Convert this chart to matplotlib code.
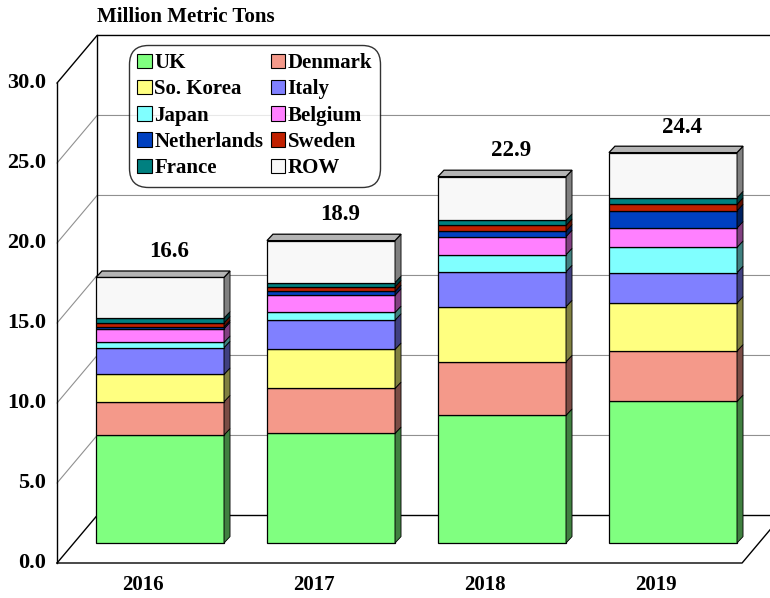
import matplotlib
matplotlib.use("Agg")
import matplotlib.pyplot as plt
from matplotlib.patches import Polygon, Patch

plt.rcParams['font.family'] = ['Liberation Serif', 'DejaVu Serif']
plt.rcParams['font.weight'] = 'bold'

years = ['2016', '2017', '2018', '2019']
totals = [16.6, 18.9, 22.9, 24.4]
series_names = ['UK', 'Denmark', 'So. Korea', 'Italy', 'Japan', 'Belgium',
                'Netherlands', 'Sweden', 'France', 'ROW']
uk = [6.75, 6.85, 7.98, 8.85]
denmark = [2.08, 2.81, 3.35, 3.15]
korea = [1.71, 2.44, 3.44, 3.00]
italy = [1.67, 1.83, 2.19, 1.90]
japan = [0.33, 0.48, 1.06, 1.58]
belgium = [0.85, 1.08, 1.13, 1.21]
netherlands = [0.12, 0.23, 0.35, 1.08]
sweden = [0.25, 0.29, 0.35, 0.40]
france = [0.30, 0.27, 0.32, 0.41]
row = [2.54, 2.62, 2.73, 2.82]
yticks = [0, 5, 10, 15, 20, 25, 30]

series = [uk, denmark, korea, italy, japan, belgium, netherlands, sweden, france, row]
colors = ['#80FF80', '#F4998A', '#FFFF80', '#8080FF', '#80FFFF', '#FF80FF',
          '#0040C0', '#C02000', '#008080', '#F8F8F8']
side_colors = ['#408040', '#7A4C45', '#808040', '#404080', '#408080', '#804080',
               '#002060', '#601000', '#004040', '#808080']
top_color = '#B4B4B4'

fig = plt.figure(figsize=(7.70, 5.98), dpi=100)
ax = fig.add_axes([0, 0, 1, 1])
ax.set_xlim(-160 / 171, 610 / 171)
ax.set_ylim(-55 / 16, 543 / 16)
ax.axis('off')

# geometry (in data units)
bw = 0.749
ddx, ddy = 0.035, 0.40          # bar depth
fdx, fdy = -0.0994, -1.25       # front plane offset
bdx, bdy = 0.1345, 1.72         # back plane offset
xl_front = -0.602
xl_back = xl_front - fdx + bdx
xr_front = 3.404
xmax = 610 / 171 + 0.1
ymax = yticks[-1]

# floor
floor = Polygon([(xl_front, fdy), (xl_back, bdy), (xr_front - fdx + bdx + 1, bdy),
                 (xr_front - fdx + bdx, bdy), (xr_front, fdy)],
                closed=True, facecolor='white', edgecolor='none', zorder=1)
ax.add_patch(floor)
ax.plot([xl_front, xr_front, xr_front - fdx + bdx], [fdy, fdy, bdy], color='black', lw=1.0, zorder=2)

# gridlines on left wall and back wall
for v in yticks[1:-1]:
    ax.plot([xl_front, xl_back, xmax], [v + fdy, v + bdy, v + bdy], color='#909090', lw=0.8, zorder=1.5)
# walls outline
ax.plot([xl_front, xl_back], [fdy, bdy], color='black', lw=1.0, zorder=2)
ax.plot([xl_back, xmax], [bdy, bdy], color='black', lw=1.0, zorder=2)
ax.plot([xl_front, xl_front], [fdy, ymax + fdy], color='black', lw=1.0, zorder=2)
ax.plot([xl_front, xl_back, xmax], [ymax + fdy, ymax + bdy, ymax + bdy], color='black', lw=1.0, zorder=2)
ax.plot([xl_back, xl_back], [bdy, ymax + bdy], color='black', lw=1.0, zorder=2)

# bars
xs = list(range(len(years)))
bottoms = [0.0] * len(years)
handles = []
for s, vals in enumerate(series):
    ax.bar(xs, vals, bottom=bottoms, width=bw, color=colors[s], edgecolor='black',
           linewidth=0.9, zorder=3)
    for i, x in enumerate(xs):
        b = bottoms[i]
        t = b + vals[i]
        xr = x + bw / 2
        ax.add_patch(Polygon([(xr, b), (xr + ddx, b + ddy), (xr + ddx, t + ddy), (xr, t)],
                             closed=True, facecolor=side_colors[s], edgecolor='black',
                             linewidth=0.6, zorder=3))
    bottoms = [bottoms[i] + vals[i] for i in range(len(years))]
    handles.append(Patch(facecolor=colors[s], edgecolor='black', linewidth=0.8, label=series_names[s]))

for i, x in enumerate(xs):
    t = bottoms[i]
    xl, xr = x - bw / 2, x + bw / 2
    ax.add_patch(Polygon([(xl, t), (xl + ddx, t + ddy), (xr + ddx, t + ddy), (xr, t)],
                         closed=True, facecolor=top_color, edgecolor='black',
                         linewidth=0.9, zorder=3))
    ax.text(x + 0.053, t + 1.6, f'{totals[i]:.1f}', ha='center', va='center',
            fontsize=16.5, fontweight='bold', zorder=5)
    ax.text(x + fdx, -2.62, years[i], ha='center', va='center', fontsize=15,
            fontweight='bold', zorder=5)

# y tick labels on front plane
for v in yticks:
    ax.text(-0.665, v + fdy, f'{v:.1f}', ha='right', va='center', fontsize=16,
            fontweight='bold', zorder=5)

ax.text(xl_back, 32.85, 'Million Metric Tons', ha='left', va='center', fontsize=15,
        fontweight='bold', zorder=5)

order = [0, 2, 4, 6, 8, 1, 3, 5, 7, 9]
leg = ax.legend([handles[k] for k in order], [series_names[k] for k in order],
                ncol=2, loc='upper left', bbox_to_anchor=(133 / 770, 1 - 49 / 598),
                borderaxespad=0, frameon=True, fancybox=True, edgecolor='black',
                handlelength=0.7, handleheight=0.7, handletextpad=0.12,
                columnspacing=0.35, labelspacing=0.3, borderpad=0.2,
                prop={'family': 'Liberation Serif', 'weight': 'bold', 'size': 15})
leg.get_frame().set_linewidth(1.0)
leg.get_frame().set_boxstyle('round,pad=0.2,rounding_size=0.9')
leg.set_zorder(6)

fig.savefig('out.png', dpi=100)
